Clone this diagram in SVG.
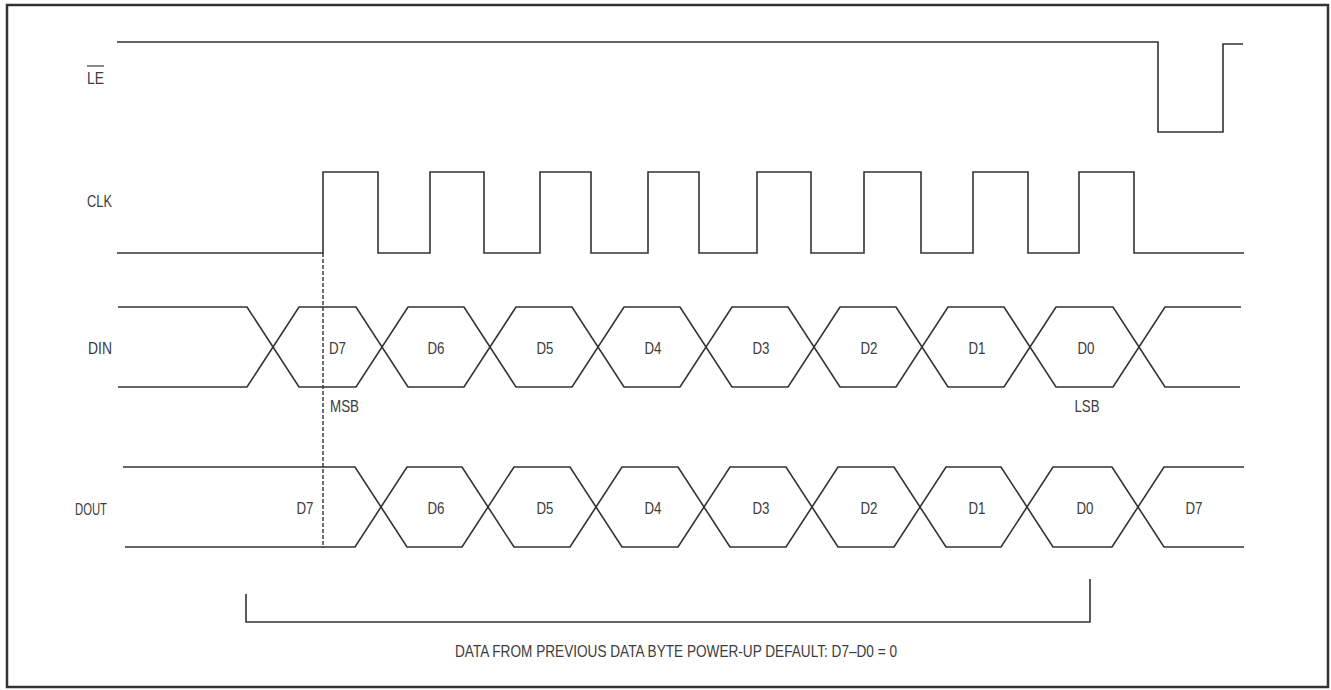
<svg xmlns="http://www.w3.org/2000/svg" width="1331" height="690" viewBox="0 0 1331 690">
<style>
.w{fill:none;stroke:#333;stroke-width:1.6;stroke-linejoin:miter}
.t{font-family:"Liberation Sans Narrow","Liberation Sans",Arial,sans-serif;font-size:17px;fill:#3c3c3c}
.m{text-anchor:middle}
.e{text-anchor:end}
</style>
<rect x="7" y="5" width="1321" height="682" fill="#fff" stroke="#333" stroke-width="2.5"/>
<g id="labels">
<text class="t" x="87" y="84" textLength="17" lengthAdjust="spacingAndGlyphs">LE</text>
<line x1="87" y1="66" x2="104" y2="66" stroke="#3c3c3c" stroke-width="1.2"/>
<text class="t" x="87" y="207" textLength="25" lengthAdjust="spacingAndGlyphs">CLK</text>
<text class="t" x="88" y="354" textLength="24" lengthAdjust="spacingAndGlyphs">DIN</text>
<text class="t" x="75" y="515" textLength="32" lengthAdjust="spacingAndGlyphs">DOUT</text>
</g>
<g id="connectors">
<path id="le" class="w" d="M117,42 H1158 V132 H1223 V44 H1243"/>
<path id="clk" class="w" d="M117,253 H323 V172 H378 V253 H430 V172 H484 V253 H540 V172 H591 V253 H648 V172 H699 V253 H757 V172 H811 V253 H864 V172 H921 V253 H973 V172 H1028 V253 H1079 V172 H1134 V253 H1244"/>
<path class="w" d="M118,307 H247 L299,387 H356 L408,307 H464 L516,387 H572 L624,307 H680 L732,387 H788 L840,307 H896 L948,387 H1004 L1056,307 H1113 L1165,387 H1240"/>
<path class="w" d="M118,387 H247 L299,307 H356 L408,387 H464 L516,307 H572 L624,387 H680 L732,307 H788 L840,387 H896 L948,307 H1004 L1056,387 H1113 L1165,307 H1241"/>
<path class="w" d="M123,467 H355 L407,547 H462 L514,467 H570 L622,547 H678 L730,467 H786 L838,547 H894 L946,467 H1001 L1053,547 H1112 L1164,467 H1244"/>
<path class="w" d="M125,547 H355 L407,467 H462 L514,547 H570 L622,467 H678 L730,547 H786 L838,467 H894 L946,547 H1001 L1053,467 H1112 L1164,547 H1244"/>
<line x1="323" y1="253" x2="323" y2="548" stroke="#333" stroke-width="1.4" stroke-dasharray="4,2"/>
<path class="w" stroke-width="2" d="M246,594 V622 H1090 V579"/>
</g>
<g id="din-labels">
<text class="t" x="329" y="354" textLength="17" lengthAdjust="spacingAndGlyphs">D7</text>
<text class="t m" x="436" y="354" textLength="17" lengthAdjust="spacingAndGlyphs">D6</text>
<text class="t m" x="545" y="354" textLength="17" lengthAdjust="spacingAndGlyphs">D5</text>
<text class="t m" x="653" y="354" textLength="17" lengthAdjust="spacingAndGlyphs">D4</text>
<text class="t m" x="761" y="354" textLength="17" lengthAdjust="spacingAndGlyphs">D3</text>
<text class="t m" x="869" y="354" textLength="17" lengthAdjust="spacingAndGlyphs">D2</text>
<text class="t m" x="977" y="354" textLength="17" lengthAdjust="spacingAndGlyphs">D1</text>
<text class="t m" x="1086" y="354" textLength="17" lengthAdjust="spacingAndGlyphs">D0</text>
<text class="t" x="330" y="412" textLength="29" lengthAdjust="spacingAndGlyphs">MSB</text>
<text class="t m" x="1087" y="412" textLength="25" lengthAdjust="spacingAndGlyphs">LSB</text>
</g>
<g id="dout-labels">
<text class="t m" x="305" y="514" textLength="17" lengthAdjust="spacingAndGlyphs">D7</text>
<text class="t m" x="436" y="514" textLength="17" lengthAdjust="spacingAndGlyphs">D6</text>
<text class="t m" x="545" y="514" textLength="17" lengthAdjust="spacingAndGlyphs">D5</text>
<text class="t m" x="653" y="514" textLength="17" lengthAdjust="spacingAndGlyphs">D4</text>
<text class="t m" x="761" y="514" textLength="17" lengthAdjust="spacingAndGlyphs">D3</text>
<text class="t m" x="869" y="514" textLength="17" lengthAdjust="spacingAndGlyphs">D2</text>
<text class="t m" x="977" y="514" textLength="17" lengthAdjust="spacingAndGlyphs">D1</text>
<text class="t m" x="1085" y="514" textLength="17" lengthAdjust="spacingAndGlyphs">D0</text>
<text class="t m" x="1194" y="514" textLength="17" lengthAdjust="spacingAndGlyphs">D7</text>
</g>
<g id="note">
<text class="t" x="455" y="657" textLength="442" lengthAdjust="spacingAndGlyphs">DATA FROM PREVIOUS DATA BYTE POWER-UP DEFAULT: D7–D0 = 0</text>
</g>
</svg>
